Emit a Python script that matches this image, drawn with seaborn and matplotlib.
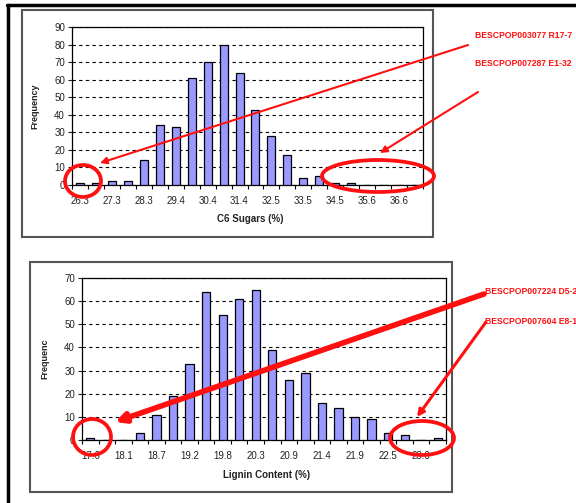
import matplotlib
matplotlib.use("Agg")
import matplotlib.pyplot as plt
from matplotlib.patches import Ellipse, Rectangle, FancyArrowPatch
from matplotlib.lines import Line2D
import seaborn as sns

# Histogram bins (bin centre, %) and counts
c6_bins = ["26.3", "26.8", "27.3", "27.8", "28.3", "28.9", "29.4", "29.9", "30.4", "30.9", "31.4",
           "32.0", "32.5", "33.0", "33.5", "34.0", "34.5", "35.1", "35.6", "36.1", "36.6", "37.1"]
c6_freq = [1, 1, 2, 2, 14, 34, 33, 61, 70, 80, 64, 43, 28, 17, 4, 5, 1, 1, 0, 0, 0, 0]

lignin_bins = ["17.6", "17.9", "18.1", "18.4", "18.7", "19.0", "19.2", "19.5", "19.8", "20.1", "20.3",
               "20.6", "20.9", "21.2", "21.4", "21.7", "21.9", "22.2", "22.5", "22.8", "23.0", "23.3"]
lignin_freq = [1, 0, 0, 3, 11, 19, 33, 64, 54, 61, 65, 39, 26, 29, 16, 14, 10, 9, 3, 2, 0, 1]

c6_yticks = list(range(0, 91, 10))
lignin_yticks = list(range(0, 71, 10))

outlier_labels = ["BESCPOP003077 R17-7", "BESCPOP007287 E1-32",
                  "BESCPOP007224 D5-2", "BESCPOP007604 E8-1"]

sns.set_style("ticks")
plt.rcParams["font.family"] = ["Liberation Sans", "DejaVu Sans"]

W, H = 576, 503
fig = plt.figure(figsize=(W / 100, H / 100), dpi=100)
fig.patch.set_facecolor("white")


def px_axes(left, top, right, bottom):
    return fig.add_axes([left / W, 1 - bottom / H, (right - left) / W, (bottom - top) / H])


def histogram(ax, bins, freq, yticks, xlabel, ylabel, xlab_pos, ylab_pos):
    sns.barplot(x=bins, y=freq, order=bins, ax=ax, color="#9999FF", saturation=1,
                edgecolor="black", linewidth=0.9, width=0.5, zorder=3)
    n = len(bins)
    ax.set_xlim(-0.5, n - 0.5)
    ax.set_ylim(yticks[0], yticks[-1])
    ax.set_yticks(yticks)
    ax.set_xticks(range(0, n, 2))
    ax.set_xticklabels(bins[::2])
    ax.set_xticks([i - 0.5 for i in range(n + 1)], minor=True)
    ax.tick_params(axis="x", which="major", length=0, pad=8, labelsize=7, colors="#222222")
    ax.tick_params(axis="x", which="minor", length=3, width=0.8, direction="out", color="black")
    ax.tick_params(axis="y", length=3, width=0.8, direction="out", pad=2, labelsize=7,
                   colors="#222222")
    ax.grid(axis="y", color="black", linestyle=(0, (3, 3)), linewidth=0.8, zorder=1)
    ax.set_axisbelow(True)
    for s in ax.spines.values():
        s.set_visible(True)
        s.set_color("black")
        s.set_linewidth(0.9)
    ax.set_xlabel(xlabel, fontsize=7, fontweight="bold", color="#222222")
    ax.set_ylabel(ylabel, fontsize=6.5, fontweight="bold", color="#222222")
    ax.xaxis.set_label_coords(*xlab_pos)
    ax.yaxis.set_label_coords(*ylab_pos)


ax1 = px_axes(72, 27, 423, 185)
histogram(ax1, c6_bins, c6_freq, c6_yticks, "C6 Sugars (%)", "Frequency",
          (0.507, -0.185), (-0.094, 0.5))

ax2 = px_axes(82, 278, 446, 440)
histogram(ax2, lignin_bins, lignin_freq, lignin_yticks, "Lignin Content (%)", "Frequenc",
          (0.508, -0.185), (-0.091, 0.5))

# Overlay in pixel coordinates for frames and callouts
ov = fig.add_axes([0, 0, 1, 1], zorder=10)
ov.set_xlim(0, W)
ov.set_ylim(H, 0)
ov.axis("off")
ov.patch.set_alpha(0)

# page frame and chart-area borders
ov.add_line(Line2D([7, W], [5, 5], color="black", lw=2.5))
ov.add_line(Line2D([8, 8], [5, H], color="black", lw=2.5))
ov.add_patch(Rectangle((22, 10), 411, 227, fill=False, edgecolor="#555555", lw=1.5))
ov.add_patch(Rectangle((30, 262), 422, 230, fill=False, edgecolor="#555555", lw=1.5))

red = "#FF1010"

# outlier rings
for (cx, cy, w, h) in [(83, 181, 36, 32), (378, 176, 112, 32),
                       (92, 437, 38, 36), (422, 438, 64, 34)]:
    ov.add_patch(Ellipse((cx, cy), w, h, fill=False, edgecolor=red, lw=2.7))

# arrows from labels to the rings
arrows = [((468, 45), (100, 163), 1.5, 10),
          ((478, 92), (380, 153), 1.5, 10),
          ((484, 294), (115, 422), 4.0, 14),
          ((486, 322), (417, 417), 2.2, 10)]
for (x0, y0), (x1, y1), lw, ms in arrows:
    ov.add_patch(FancyArrowPatch((x0, y0), (x1, y1), arrowstyle="-|>", color=red,
                                 lw=lw, mutation_scale=ms, shrinkA=0, shrinkB=0))

label_pos = [(475, 35), (475, 63), (485, 292), (485, 321)]
for text, (x, y) in zip(outlier_labels, label_pos):
    ov.text(x, y, text, color=red, fontsize=6.2, fontweight="bold", va="center", ha="left")

fig.savefig("out.png", dpi=100)
